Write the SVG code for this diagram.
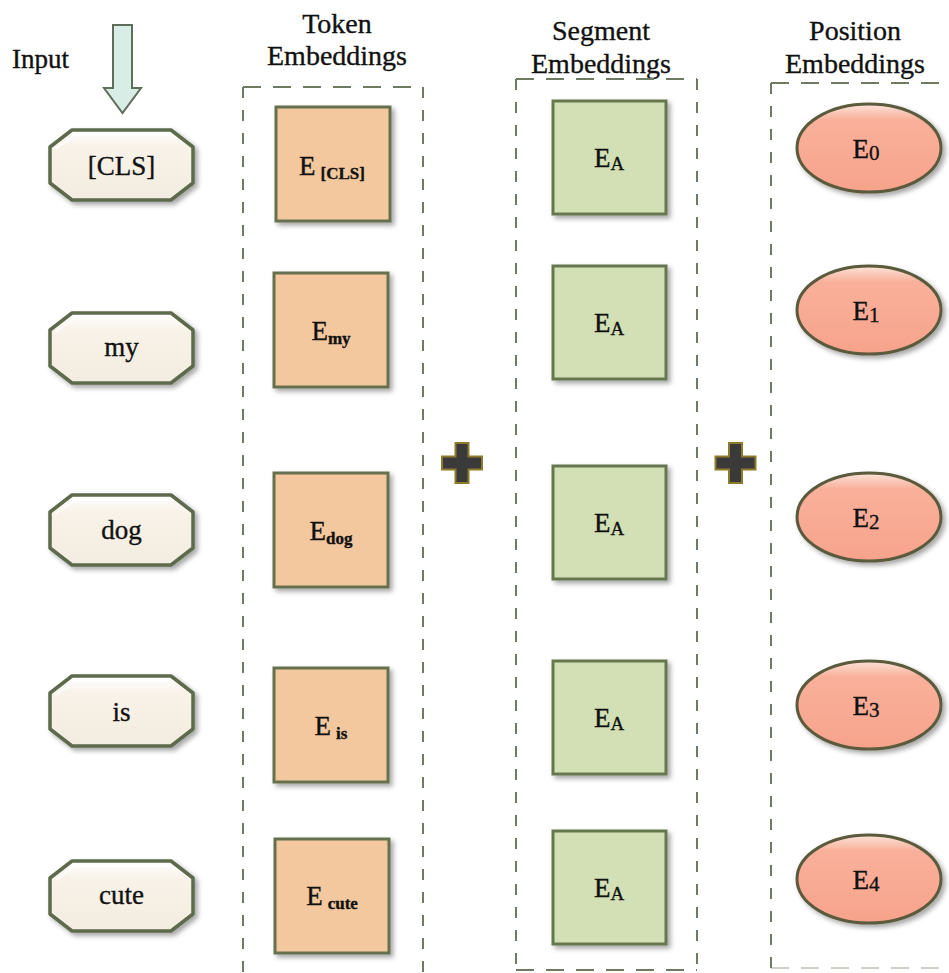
<svg xmlns="http://www.w3.org/2000/svg" xmlns:xlink="http://www.w3.org/1999/xlink" width="949" height="973" viewBox="0 0 949 973" font-family="'Liberation Serif', 'Times New Roman', serif">
  <style>
    text { font-family: "Liberation Serif", "Times New Roman", serif; fill: #111; stroke: #111; stroke-width: 0.35px; }
    .head { font-family: "Liberation Serif", serif; font-size: 28px; text-anchor: middle; }
    .word { font-family: "Liberation Serif", serif; font-size: 27px; text-anchor: middle; }
    .lbl { font-family: "Liberation Serif", serif; font-size: 27px; text-anchor: middle; }
    .sub { font-size: 17px; font-weight: bold; }
    .subA { font-size: 19px; }
    .subN { font-size: 21px; }
    .frame { fill: none; stroke: #6f7a62; stroke-width: 2; }
    .fh { stroke-dasharray: 18 12; }
    .fv { stroke-dasharray: 11 12; }
    .tok { fill: #f3c89e; stroke: #66704e; stroke-width: 3; }
    .seg { fill: #d3e0b6; stroke: #66774e; stroke-width: 3; }
    .pos { fill: url(#posShine); stroke: #5c5a3e; stroke-width: 3; }
    .plus { fill: #3a3a3a; stroke: #8e7a2c; stroke-width: 2; }
  </style>
  <defs>
    <filter id="shadow" x="-20%" y="-20%" width="150%" height="150%">
      <feDropShadow dx="3" dy="3" stdDeviation="2.5" flood-color="#000" flood-opacity="0.35"/>
    </filter>
    <linearGradient id="octFill" x1="0" y1="0" x2="0" y2="1">
      <stop offset="0" stop-color="#ffffff"/>
      <stop offset="0.25" stop-color="#f8f2e8"/>
      <stop offset="1" stop-color="#f3ece0"/>
    </linearGradient>
    <linearGradient id="posShine" x1="0" y1="0" x2="0" y2="1">
      <stop offset="0" stop-color="#fbe3d8"/>
      <stop offset="0.18" stop-color="#f9b09a"/>
      <stop offset="1" stop-color="#f7a38c"/>
    </linearGradient>
    <!-- octagonal token outline, centred on the origin -->
    <g id="oct">
      <polygon points="-49.5,-35 49.5,-35 71.5,-18 71.5,18 49.5,35 -49.5,35 -71.5,18 -71.5,-18" fill="url(#octFill)" stroke="#5d6a4c" stroke-width="3.5" stroke-linejoin="round"/>
      <polyline points="-66,-16 -47,-30 47,-30" fill="none" stroke="#ffffff" stroke-width="2" opacity="0.8"/>
    </g>
  </defs>

  <rect width="949" height="973" fill="#ffffff"/>

  <!-- column headers -->
  <text x="12" y="68" font-family="'Liberation Serif', serif" font-size="27">Input</text>
  <text class="head" x="337" y="33">Token</text>
  <text class="head" x="337" y="65">Embeddings</text>
  <text class="head" x="601" y="40">Segment</text>
  <text class="head" x="601" y="73">Embeddings</text>
  <text class="head" x="855" y="40">Position</text>
  <text class="head" x="855" y="73">Embeddings</text>

  <!-- dashed column frames -->
  <g id="frames">
    <path class="frame fh" d="M243,87 H423"/>
    <path class="frame fv" d="M243,87 V980 M423,87 V980"/>
    <path class="frame fh" d="M516,79 H697 M516,970 H697"/>
    <path class="frame fv" d="M516,79 V970 M697,79 V970"/>
    <path class="frame fh" d="M771,83 H960"/>
    <path class="frame fh" d="M771,968 H960" opacity="0.35"/>
    <path class="frame fv" d="M771,83 V968"/>
  </g>

  <!-- connectors -->
  <g id="connectors">
    <polygon points="113,25 132,25 132,88 141,88 122.5,113 104,88 113,88" fill="#d9ede7" stroke="#5f6e5b" stroke-width="2" stroke-linejoin="miter"/>
    <path class="plus" d="M455.5,443 h13 v13.5 h13.5 v13 h-13.5 v13.5 h-13 v-13.5 h-13.5 v-13 h13.5 z"/>
    <path class="plus" d="M729,443 h13 v13.5 h13.5 v13 h-13.5 v13.5 h-13 v-13.5 h-13.5 v-13 h13.5 z"/>
  </g>

  <!-- input tokens -->
  <g id="in-cls"><use xlink:href="#oct" x="121.5" y="165" filter="url(#shadow)"/><text class="word" x="121.5" y="175">[CLS]</text></g>
  <g id="in-my"><use xlink:href="#oct" x="121.5" y="348" filter="url(#shadow)"/><text class="word" x="121.5" y="356">my</text></g>
  <g id="in-dog"><use xlink:href="#oct" x="121.5" y="530" filter="url(#shadow)"/><text class="word" x="121.5" y="539">dog</text></g>
  <g id="in-is"><use xlink:href="#oct" x="121.5" y="711" filter="url(#shadow)"/><text class="word" x="121.5" y="721">is</text></g>
  <g id="in-cute"><use xlink:href="#oct" x="121.5" y="896" filter="url(#shadow)"/><text class="word" x="121.5" y="904">cute</text></g>

  <!-- token embeddings -->
  <g id="tok-cls"><rect class="tok" x="276" y="107" width="114" height="114" filter="url(#shadow)"/><text class="lbl" x="332" y="175">E<tspan class="sub" dx="5" dy="4">[CLS]</tspan></text></g>
  <g id="tok-my"><rect class="tok" x="274" y="273" width="114" height="114" filter="url(#shadow)"/><text class="lbl" x="331" y="340">E<tspan class="sub" dy="4">my</tspan></text></g>
  <g id="tok-dog"><rect class="tok" x="274" y="473" width="114" height="114" filter="url(#shadow)"/><text class="lbl" x="331" y="540">E<tspan class="sub" dy="4">dog</tspan></text></g>
  <g id="tok-is"><rect class="tok" x="274" y="668" width="114" height="114" filter="url(#shadow)"/><text class="lbl" x="331" y="735">E<tspan class="sub" dx="5" dy="4">is</tspan></text></g>
  <g id="tok-cute"><rect class="tok" x="275" y="839" width="114" height="114" filter="url(#shadow)"/><text class="lbl" x="332" y="905">E<tspan class="sub" dx="5" dy="4">cute</tspan></text></g>

  <!-- segment embeddings -->
  <g id="seg-0"><rect class="seg" x="553" y="101" width="113" height="113" filter="url(#shadow)"/><text class="lbl" x="609" y="167">E<tspan class="subA" dy="3">A</tspan></text></g>
  <g id="seg-1"><rect class="seg" x="553" y="266" width="113" height="113" filter="url(#shadow)"/><text class="lbl" x="609" y="332">E<tspan class="subA" dy="3">A</tspan></text></g>
  <g id="seg-2"><rect class="seg" x="553" y="466" width="113" height="113" filter="url(#shadow)"/><text class="lbl" x="609" y="532">E<tspan class="subA" dy="3">A</tspan></text></g>
  <g id="seg-3"><rect class="seg" x="553" y="661" width="113" height="113" filter="url(#shadow)"/><text class="lbl" x="609" y="727">E<tspan class="subA" dy="3">A</tspan></text></g>
  <g id="seg-4"><rect class="seg" x="553" y="831" width="113" height="113" filter="url(#shadow)"/><text class="lbl" x="609" y="897">E<tspan class="subA" dy="3">A</tspan></text></g>

  <!-- position embeddings -->
  <g id="pos-0"><ellipse class="pos" cx="869" cy="148" rx="72" ry="44" filter="url(#shadow)"/><text class="lbl" x="866" y="158">E<tspan class="subN" dy="2">0</tspan></text></g>
  <g id="pos-1"><ellipse class="pos" cx="869" cy="310" rx="72" ry="44" filter="url(#shadow)"/><text class="lbl" x="866" y="320">E<tspan class="subN" dy="2">1</tspan></text></g>
  <g id="pos-2"><ellipse class="pos" cx="869" cy="517" rx="72" ry="44" filter="url(#shadow)"/><text class="lbl" x="866" y="527">E<tspan class="subN" dy="2">2</tspan></text></g>
  <g id="pos-3"><ellipse class="pos" cx="869" cy="705" rx="72" ry="44" filter="url(#shadow)"/><text class="lbl" x="866" y="715">E<tspan class="subN" dy="2">3</tspan></text></g>
  <g id="pos-4"><ellipse class="pos" cx="869" cy="879" rx="72" ry="44" filter="url(#shadow)"/><text class="lbl" x="866" y="889">E<tspan class="subN" dy="2">4</tspan></text></g>
</svg>
